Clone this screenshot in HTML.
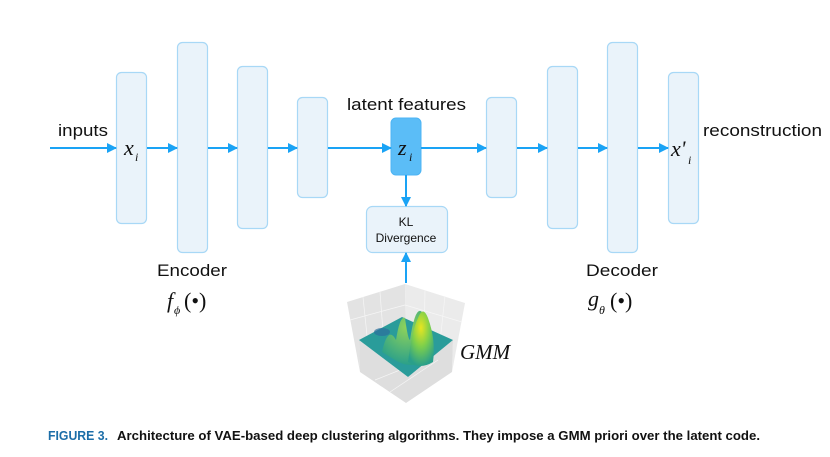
<!DOCTYPE html>
<html><head><meta charset="utf-8"><style>
html,body{margin:0;padding:0;background:#fff;}
svg{display:block;}
</style></head><body>
<svg width="830" height="457" viewBox="0 0 830 457" xmlns="http://www.w3.org/2000/svg">
<defs>
<marker id="ah" markerWidth="10" markerHeight="10" refX="9" refY="5" orient="auto" markerUnits="userSpaceOnUse">
<path d="M0,0 L10,5 L0,10 z" fill="#1aa3f5"/>
</marker>
<radialGradient id="pk" cx="0.5" cy="0.3" r="0.7">
<stop offset="0" stop-color="#e8e620"/><stop offset="0.5" stop-color="#7ccf4c"/><stop offset="1" stop-color="#2a9f8a"/>
</radialGradient>
<radialGradient id="pk2" cx="0.5" cy="0.3" r="0.7">
<stop offset="0" stop-color="#8fd35a"/><stop offset="1" stop-color="#2aa08a"/>
</radialGradient>
</defs>
<g fill="#eaf3fa" stroke="#a8d8f6" stroke-width="1.2">
<rect x="116.5" y="72.5" width="30" height="151" rx="5"/>
<rect x="177.5" y="42.5" width="30" height="210" rx="5"/>
<rect x="237.5" y="66.5" width="30" height="162" rx="5"/>
<rect x="297.5" y="97.5" width="30" height="100" rx="5"/>
<rect x="486.5" y="97.5" width="30" height="100" rx="5"/>
<rect x="547.5" y="66.5" width="30" height="162" rx="5"/>
<rect x="607.5" y="42.5" width="30" height="210" rx="5"/>
<rect x="668.5" y="72.5" width="30" height="151" rx="5"/>
<rect x="366.5" y="206.5" width="81" height="46" rx="6"/>
</g>
<rect x="391" y="118" width="30" height="57" rx="5" fill="#5bbdf7" stroke="#4cb4f4"/>
<g stroke="#1aa3f5" stroke-width="2" fill="none" marker-end="url(#ah)">
<line x1="50" y1="148" x2="116" y2="148"/>
<line x1="147" y1="148" x2="177" y2="148"/>
<line x1="208" y1="148" x2="237" y2="148"/>
<line x1="268" y1="148" x2="297" y2="148"/>
<line x1="328" y1="148" x2="391" y2="148"/>
<line x1="421" y1="148" x2="486" y2="148"/>
<line x1="517" y1="148" x2="547" y2="148"/>
<line x1="578" y1="148" x2="607" y2="148"/>
<line x1="638" y1="148" x2="668" y2="148"/>
<line x1="406" y1="175" x2="406" y2="206"/>
<line x1="406" y1="283" x2="406" y2="253"/>
</g>
<g font-family="Liberation Sans, sans-serif" fill="#111">
<text x="58" y="136" font-size="17" textLength="50" lengthAdjust="spacingAndGlyphs">inputs</text>
<text x="347" y="110" font-size="17" textLength="119" lengthAdjust="spacingAndGlyphs">latent features</text>
<text x="703" y="136" font-size="17" textLength="119" lengthAdjust="spacingAndGlyphs">reconstruction</text>
<text x="157" y="276" font-size="17" textLength="70" lengthAdjust="spacingAndGlyphs">Encoder</text>
<text x="586" y="276" font-size="17" textLength="72" lengthAdjust="spacingAndGlyphs">Decoder</text>
<text x="406" y="226" font-size="12" text-anchor="middle">KL</text>
<text x="406" y="242" font-size="12" text-anchor="middle">Divergence</text>
</g>
<g font-family="Liberation Serif, serif" font-style="italic" fill="#111">
<text x="124" y="155" font-size="22">x</text><text x="135" y="161" font-size="12">i</text>
<text x="398" y="155" font-size="22">z</text><text x="409" y="161" font-size="12">i</text>
<text x="671" y="156" font-size="22">x'</text><text x="688" y="164" font-size="12">i</text>
<text x="167" y="308" font-size="22">f</text><text x="174" y="314" font-size="12">ϕ</text>
<text x="588" y="306" font-size="22">g</text><text x="599" y="314" font-size="12">θ</text>
<text x="460" y="359" font-size="21">GMM</text>
</g>
<g font-family="Liberation Serif, serif" fill="#111" font-size="22">
<text x="184" y="308">(•)</text>
<text x="610" y="308">(•)</text>
</g>
<!-- GMM cube -->
<polygon points="347,302 405,284 406,346 359,340 360,372" fill="#e3e3e3"/>
<polygon points="405,284 465,303 452,372 453,340 406,346" fill="#ebebeb"/>
<polygon points="359,340 408,377 453,340 452,372 406,403 360,372" fill="#dedede"/>
<g stroke="#f6f6f6" stroke-width="0.7" fill="none">
<line x1="363" y1="297" x2="368" y2="345"/><line x1="380" y1="292" x2="384" y2="345"/>
<line x1="425" y1="290" x2="424" y2="345"/><line x1="445" y1="296" x2="440" y2="342"/>
<line x1="350" y1="320" x2="405" y2="305"/><line x1="405" y1="305" x2="462" y2="322"/>
<line x1="375" y1="380" x2="420" y2="362"/><line x1="390" y1="392" x2="438" y2="360"/>
</g>
<polygon points="359,340 402,317 453,340 408,377" fill="#2a9c9a"/>
<ellipse cx="382" cy="332" rx="8" ry="4" fill="#2c6f9c" opacity="0.7"/>
<path d="M382,352 Q388,325 396,340 Q400,315 405,318 Q408,340 410,340 Q416,300 424,315 Q432,335 430,360 Q410,370 395,360 Z" fill="url(#pk2)"/>
<path d="M408,362 Q412,330 418,318 Q423,305 428,318 Q436,340 433,362 Q420,370 408,362 Z" fill="url(#pk)"/>
<text x="48" y="440" font-family="Liberation Sans, sans-serif" font-weight="bold" font-size="12.5" fill="#1c6ea8" textLength="60" lengthAdjust="spacingAndGlyphs">FIGURE 3.</text>
<text x="117" y="440" font-family="Liberation Sans, sans-serif" font-weight="bold" font-size="12.5" fill="#111" textLength="643" lengthAdjust="spacingAndGlyphs">Architecture of VAE-based deep clustering algorithms. They impose a GMM priori over the latent code.</text>
</svg>
</body></html>
